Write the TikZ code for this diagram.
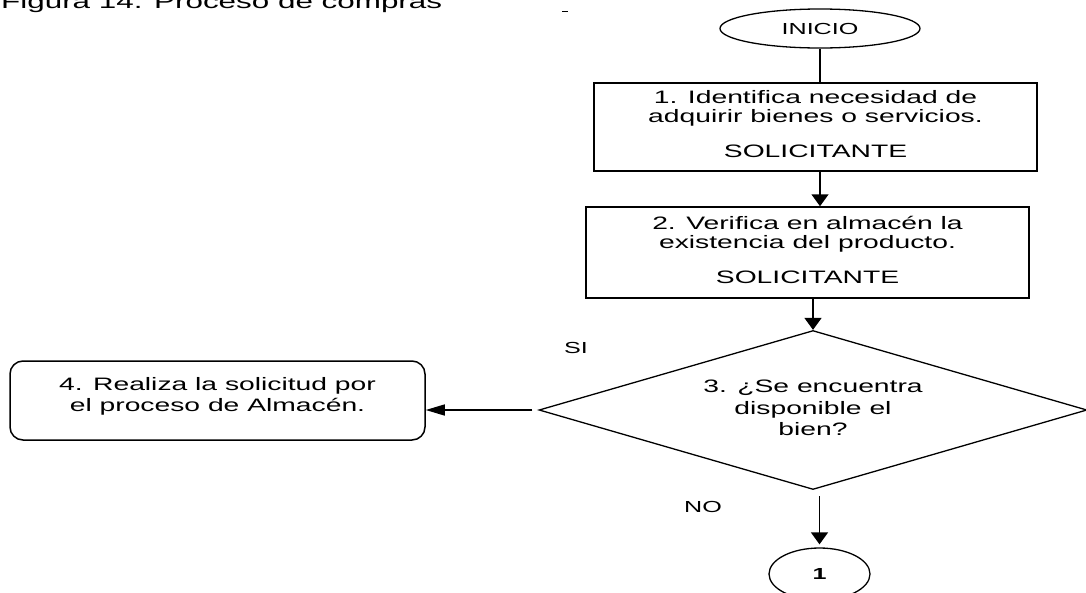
\documentclass[tikz,border=0pt]{standalone}
\usepackage{fontspec}
\setmainfont{Liberation Sans}
\usepackage{graphicx}
\usetikzlibrary{shapes.geometric,arrows.meta}

% text in this chart is set wide
\newcommand\widetext[1]{\scalebox{1.57}[1]{#1}}
\newcommand\stacklines[1]{\widetext{\begin{tabular}{@{}c@{}}#1\end{tabular}}}

\begin{document}
\begin{tikzpicture}[x=1pt,y=-1pt,
  box/.style={draw, rectangle, line width=1.5pt, inner sep=0pt,
    font=\fontsize{18}{19}\selectfont},
  roundbox/.style={box, rounded corners=13pt},
  terminal/.style={draw, ellipse, line width=1.3pt, inner sep=0pt,
    minimum width=200pt, minimum height=39pt, font=\fontsize{16}{18}\selectfont},
  decision/.style={draw, diamond, line width=1.3pt, inner sep=0pt,
    shape aspect=3.45, minimum width=548pt, minimum height=159pt,
    font=\fontsize{18}{21.5}\selectfont},
  connector/.style={draw, ellipse, line width=1.3pt, inner sep=0pt,
    minimum width=101pt, minimum height=52pt, font=\fontsize{16}{18}\selectfont\bfseries},
  lbl/.style={inner sep=0pt, font=\fontsize{16}{18}\selectfont},
  link/.style={line width=1.5pt},
  arrV/.style={link, -{Triangle[length=12pt,width=17pt]}},
  arrH/.style={link, -{Triangle[length=19pt,width=11pt]}}
]
\clip (0,0) rectangle (1086,592);
\fill[white] (0,0) rectangle (1086,592);

% caption, cut by the top edge
\node[anchor=base west, inner sep=0pt, font=\fontsize{20}{22}\selectfont] (caption)
  at (1,8.5) {\widetext{Figura 14. Proceso de compras}};
\draw[line width=1pt] (562,11.5) -- (568,11.5);

% flow shapes
\node[terminal] (start) at (820,28.5) {\widetext{INICIO}};
\node[box, minimum width=443pt, minimum height=88pt] (s1) at (815.5,127)
  {\stacklines{1. Identifica necesidad de\\adquirir bienes o servicios.\\[16pt]SOLICITANTE}};
\node[box, minimum width=443pt, minimum height=91pt] (s2) at (807.5,252.5)
  {\stacklines{2. Verifica en almacén la\\existencia del producto.\\[16pt]SOLICITANTE}};
\node[decision] (q) at (813,410)
  {\stacklines{3. ¿Se encuentra\\disponible el\\bien?}};
\node[roundbox, minimum width=415pt, minimum height=79pt,
  label={[font=\fontsize{18}{21}\selectfont, inner sep=0pt, yshift=4pt]center:%
    {\stacklines{4. Realiza la solicitud por\\el proceso de Almacén.}}}]
  (s4) at (217.5,400.5) {};
\node[connector] (c1) at (819.5,574) {\widetext{1}};

% branch labels
\node[lbl] (si) at (576,348) {\widetext{SI}};
\node[lbl] (no) at (703,507) {\widetext{NO}};

% connectors
\draw[link] (start.south) -- (start.south |- s1.north);
\draw[arrV] (start.south |- s1.south) -- (start.south |- s2.north);
\draw[arrV] (q.north |- s2.south) -- (q.north);
\draw[arrH, shorten <=6pt] (q.west) -- (q.west -| s4.east);
\draw[arrV, shorten <=6pt, shorten >=3pt] (c1.north |- q.south) -- (c1.north);
\end{tikzpicture}
\end{document}
